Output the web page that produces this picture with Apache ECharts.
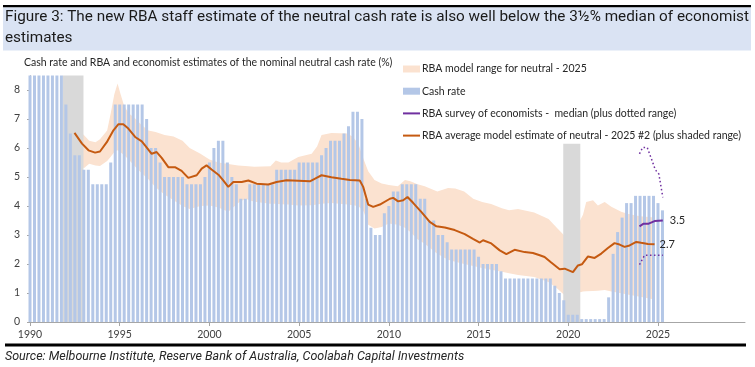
<!DOCTYPE html>
<html><head><meta charset="utf-8">
<script src="https://cdn.jsdelivr.net/npm/echarts@6/dist/echarts.min.js"></script>
<style>html,body{margin:0;padding:0;background:#fff}#c{width:755px;height:367px}</style>
</head><body><div id="c"></div>
<script>
// ---------------- DATA ----------------
const titleText = 'Figure 3: The new RBA staff estimate of the neutral cash rate is also well below the 3½% median of economist\nestimates';
const subtitleText = 'Cash rate and RBA and economist estimates of the nominal neutral cash rate (%)';
const sourceText = 'Source: Melbourne Institute, Reserve Bank of Australia, Coolabah Capital Investments';
const legendBand = 'RBA model range for neutral - 2025';
const legendCash = 'Cash rate';
const legendSurvey = 'RBA survey of economists -  median (plus dotted range)';
const legendModel = 'RBA average model estimate of neutral - 2025 #2 (plus shaded range)';

const xTicks = [1990, 1995, 2000, 2005, 2010, 2015, 2020, 2025];
const yTicks = [0, 1, 2, 3, 4, 5, 6, 7, 8];

// quarterly cash rate (end of quarter), first quarter = 1990 Q1
const cashFirstYear = 1990;
const cashRate = [
 16.5,15,14,12, 12,10.5,9.5,8.5, 7.5,6.5,5.75,5.75, 5.25,5.25,4.75,4.75,
 4.75,4.75,5.5,7.5, 7.5,7.5,7.5,7.5, 7.5,7.5,7.0,6.0, 6.0,5.5,5.0,5.0,
 5.0,5.0,5.0,4.75, 4.75,4.75,4.75,5.0, 5.5,6.0,6.25,6.25, 5.5,5.0,4.75,4.25,
 4.25,4.75,4.75,4.75, 4.75,4.75,4.75,5.25, 5.25,5.25,5.25,5.25, 5.5,5.5,5.5,5.5,
 5.5,5.75,6.0,6.25, 6.25,6.25,6.5,6.75, 7.25,7.25,7.0,4.25, 3.25,3.0,3.0,3.75,
 4.0,4.5,4.5,4.75, 4.75,4.75,4.75,4.25, 4.25,3.5,3.5,3.0, 3.0,2.75,2.5,2.5,
 2.5,2.5,2.5,2.5, 2.25,2.0,2.0,2.0, 2.0,1.75,1.5,1.5, 1.5,1.5,1.5,1.5,
 1.5,1.5,1.5,1.5, 1.5,1.25,1.0,0.75, 0.25,0.25,0.25,0.1, 0.1,0.1,0.1,0.1,
 0.1,0.85,2.35,3.1, 3.6,4.1,4.1,4.35, 4.35,4.35,4.35,4.35, 4.1,3.85
];

// RBA model range (shaded band)
const bandYears = [1992.5,1993.0,1993.3,1993.65,1993.9,1994.3,1994.5,1994.7,1994.88,1995.05,1995.25,1995.5,1995.8,1996.2,1996.6,1997.0,1997.5,1998.0,1998.5,1998.9,1999.5,2000.0,2000.5,2001.05,2001.6,2002.0,2002.5,2003.4,2003.7,2004.0,2004.4,2004.95,2005.7,2006.0,2006.25,2006.8,2007.7,2008.0,2008.3,2008.6,2008.85,2009.2,2009.6,2010.0,2010.5,2010.9,2011.2,2011.6,2012.0,2012.7,2013.3,2013.7,2014.2,2014.7,2015.2,2015.7,2016.3,2016.7,2017.2,2018.1,2018.9,2019.4,2019.75,2020.2,2020.82,2021.0,2021.38,2021.65,2022.03,2022.4,2022.95,2023.3,2024.0,2024.8];
const bandHigh = [6.7,6.45,6.25,6.2,6.3,6.6,7.2,7.85,8.22,7.85,7.45,7.2,7.05,6.8,6.6,6.55,6.45,6.4,6.25,6.0,5.8,5.6,5.5,5.45,5.4,5.38,5.35,5.37,5.57,5.5,5.5,5.69,5.8,6.05,6.45,6.52,6.5,6.38,6.15,5.6,5.2,4.9,4.78,4.72,4.68,4.9,4.85,4.75,4.68,4.5,4.62,4.6,4.5,4.25,4.14,4.07,3.92,3.85,3.9,3.78,3.55,3.22,3.0,2.95,3.7,4.14,4.2,4.02,4.14,3.97,3.8,3.73,3.65,3.6];
const bandLow = [5.6,5.3,5.46,5.4,5.38,5.55,5.7,5.86,5.92,5.85,5.75,5.6,5.4,5.15,4.92,4.65,4.4,4.2,4.0,3.9,4.0,4.02,3.95,3.8,4.1,4.25,4.15,4.08,4.08,4.06,4.05,4.02,4.03,4.05,4.08,4.1,4.05,4.03,4.0,3.8,3.35,3.22,3.28,3.4,3.35,3.25,3.1,2.85,2.7,2.35,2.15,2.08,2.0,1.93,1.86,1.8,1.73,1.68,1.62,1.55,1.38,1.15,0.95,0.95,1.05,1.06,1.07,1.08,1.1,1.05,0.99,0.95,0.87,0.78];

// RBA average model estimate of neutral
const modelYears = [1992.48,1992.9,1993.26,1993.63,1993.9,1994.28,1994.65,1994.93,1995.2,1995.48,1995.86,1996.23,1996.41,1996.78,1997.06,1997.34,1997.71,1998.08,1998.45,1998.82,1999.29,1999.57,1999.84,2000.12,2000.5,2000.77,2001.05,2001.33,2001.8,2002.17,2002.63,2003.28,2003.74,2004.3,2004.95,2005.6,2005.97,2006.25,2006.8,2007.36,2007.83,2008.38,2008.57,2008.85,2009.13,2009.5,2010.06,2010.24,2010.52,2010.8,2011.04,2011.35,2011.82,2012.28,2012.65,2013.12,2013.67,2014.23,2014.69,2015.07,2015.25,2015.71,2016.18,2016.55,2017.01,2017.57,2018.03,2018.41,2018.68,2019.05,2019.52,2019.8,2020.26,2020.54,2020.76,2021.1,2021.47,2021.84,2022.21,2022.58,2022.86,2023.14,2023.42,2023.79,2024.06,2024.44,2024.81];
const modelValues = [6.52,6.15,5.92,5.84,5.88,6.2,6.61,6.82,6.82,6.67,6.38,6.23,6.09,5.8,5.86,5.66,5.34,5.34,5.21,4.97,5.06,5.29,5.4,5.26,5.08,4.88,4.66,4.83,4.83,4.88,4.77,4.74,4.83,4.89,4.87,4.85,4.97,5.06,4.99,4.94,4.9,4.88,4.66,4.05,3.97,4.05,4.25,4.28,4.16,4.2,4.31,4.11,3.79,3.45,3.3,3.26,3.17,3.03,2.87,2.74,2.82,2.71,2.47,2.34,2.49,2.41,2.38,2.3,2.24,2.05,1.82,1.84,1.72,1.95,1.99,2.26,2.21,2.36,2.55,2.72,2.67,2.59,2.64,2.76,2.73,2.69,2.68];

// RBA survey of economists: median and range
const surveyYears = [2023.97,2024.2,2024.48,2024.81,2025.27];
const surveyMedian = [3.3,3.39,3.39,3.48,3.5];
const surveyHighYears = [2023.97,2024.15,2024.4,2024.65,2024.85,2025.05,2025.27];
const surveyHigh = [5.8,6.02,6.02,5.6,5.25,5.1,4.3];
const surveyLowYears = [2023.97,2024.25,2025.27];
const surveyLow = [1.98,2.3,2.3];

// grey shaded periods
const shadeStart = [1991.83, 2019.72];
const shadeEnd = [1992.98, 2020.67];
const shadeTop = [8.5, 6.15];

// ---------------- CHART ----------------
const FONT = 'Lato';
const peach = '#fbe2d0';
const barBlue = '#b4c7e7';
const orange = '#c55a11';
const purple = '#7030a0';
const pair = (xs, ys) => xs.map((x, i) => [x, ys[i]]);
const lineIcon = 'path://M0,0H17V2H0Z';

const chart = echarts.init(document.getElementById('c'), null, {renderer: 'canvas'});
chart.setOption({
  animation: false,
  backgroundColor: '#fff',
  graphic: [
    {type: 'rect', z: 0, shape: {x: 3, y: 5, width: 748, height: 2.5}, style: {fill: '#000'}},
    {type: 'rect', z: 0, shape: {x: 3, y: 7.5, width: 748, height: 43}, style: {fill: '#dae3f3'}},
    {type: 'rect', z: 0, shape: {x: 5, y: 343.5, width: 741, height: 3}, style: {fill: '#000'}}
  ],
  title: [
    {text: titleText, left: 5, top: 7, padding: 0,
     textStyle: {fontFamily: 'Roboto', fontSize: 15.3, lineHeight: 21, fontWeight: 'normal', color: '#1a1a1a'}},
    {text: subtitleText, left: 24, top: 57, padding: 0,
     textStyle: {fontFamily: FONT, fontSize: 10.5, fontWeight: 'normal', color: '#262626'}},
    {text: sourceText, left: 5, top: 350, padding: 0,
     textStyle: {fontFamily: 'Roboto', fontSize: 12.5, fontStyle: 'italic', fontWeight: 'normal', color: '#262626'}}
  ],
  legend: {
    orient: 'vertical', left: 398, top: 58.5, itemWidth: 17, itemHeight: 7, itemGap: 11.2,
    selectedMode: false, symbolKeepAspect: true,
    textStyle: {fontFamily: FONT, fontSize: 10.5, color: '#262626', padding: [0, 0, 0, -3]},
    data: [
      {name: legendBand, icon: 'rect', itemStyle: {color: peach}},
      {name: legendCash, icon: 'rect', itemStyle: {color: barBlue}},
      {name: legendSurvey, icon: lineIcon, itemStyle: {color: purple}},
      {name: legendModel, icon: lineIcon, itemStyle: {color: orange}}
    ]
  },
  grid: {left: 30, right: 10, top: 75.5, bottom: 45, containLabel: false},
  xAxis: {
    type: 'value', min: 1990, max: 2029.85, interval: 5,
    axisLine: {lineStyle: {color: '#a6a6a6', width: 1}},
    axisTick: {show: true, length: 4, customValues: xTicks, lineStyle: {color: '#a6a6a6'}},
    axisLabel: {customValues: xTicks, formatter: v => String(v), color: '#404040',
                fontFamily: FONT, fontSize: 10.5, margin: 7},
    splitLine: {show: false}
  },
  yAxis: {
    type: 'value', min: 0, max: 8.5, interval: 1,
    axisLine: {show: true, lineStyle: {color: '#bfbfbf', width: 1}},
    axisTick: {show: true, length: 3, customValues: yTicks, lineStyle: {color: '#a6a6a6'}},
    axisLabel: {customValues: yTicks, color: '#404040', fontFamily: FONT, fontSize: 10.5, margin: 10},
    splitLine: {show: false}
  },
  series: [
    {name: legendBand, type: 'custom', z: 1, silent: true,
     itemStyle: {color: peach},
     data: bandYears.map((t, i) => [t, bandLow[i], bandHigh[i]]),
     encode: {x: 0, y: [1, 2]},
     renderItem: (params, api) => {
       if (params.dataIndex !== 0) return null;
       const pts = [];
       for (let i = 0; i < bandYears.length; i++) pts.push(api.coord([bandYears[i], bandHigh[i]]));
       for (let i = bandYears.length - 1; i >= 0; i--) pts.push(api.coord([bandYears[i], bandLow[i]]));
       return {type: 'polygon', shape: {points: pts}, style: {fill: peach}};
     }},
    {name: 'shade', type: 'custom', z: 2, silent: true,
     data: shadeStart.map((s, i) => [s, shadeEnd[i], shadeTop[i]]),
     encode: {x: [0, 1], y: 2},
     renderItem: (params, api) => {
       const p0 = api.coord([api.value(0), api.value(2)]);
       const p1 = api.coord([api.value(1), 0]);
       return {type: 'rect', shape: {x: p0[0], y: p0[1], width: p1[0] - p0[0], height: p1[1] - p0[1]},
               style: {fill: '#d9d9d9'}};
     }},
    {name: legendCash, type: 'bar', z: 3, barWidth: 3, silent: true, clip: true,
     itemStyle: {color: barBlue},
     data: cashRate.map((v, i) => [cashFirstYear + i * 0.25, v])},
    {name: legendModel, type: 'line', z: 4, symbol: 'none', silent: true,
     data: pair(modelYears, modelValues),
     lineStyle: {color: orange, width: 2}, itemStyle: {color: orange},
     endLabel: {show: true, formatter: p => p.value[1].toFixed(1), distance: 5,
                color: '#262626', fontFamily: FONT, fontSize: 11}},
    {name: legendSurvey, type: 'line', z: 4, symbol: 'none', silent: true,
     data: pair(surveyYears, surveyMedian),
     lineStyle: {color: purple, width: 2}, itemStyle: {color: purple},
     endLabel: {show: true, formatter: p => p.value[1].toFixed(1), distance: 7,
                color: '#262626', fontFamily: FONT, fontSize: 11}},
    {name: 'surveyHigh', type: 'line', z: 4, symbol: 'none', silent: true,
     data: pair(surveyHighYears, surveyHigh),
     lineStyle: {color: purple, width: 1.5, type: [1.5, 2.5]}},
    {name: 'surveyLow', type: 'line', z: 4, symbol: 'none', silent: true,
     data: pair(surveyLowYears, surveyLow),
     lineStyle: {color: purple, width: 1.5, type: [1.5, 2.5]}}
  ]
});
</script></body></html>
